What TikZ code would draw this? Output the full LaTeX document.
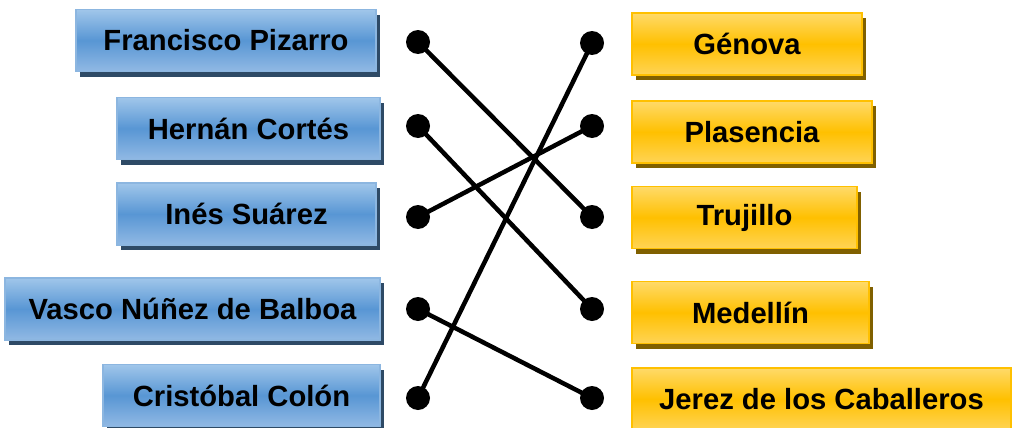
\documentclass[tikz,border=0pt]{standalone}
\usepackage{fontspec}
\setmainfont{Liberation Sans}
\usetikzlibrary{shadows}

\definecolor{bluetop}{RGB}{160,198,234}
\definecolor{bluemid}{RGB}{88,150,212}
\definecolor{bluebot}{RGB}{145,185,228}
\definecolor{blueline}{RGB}{140,182,224}
\definecolor{blueshadow}{RGB}{46,74,102}
\definecolor{goldtop}{RGB}{255,218,105}
\definecolor{goldmid}{RGB}{255,192,0}
\definecolor{goldbot}{RGB}{255,212,85}
\definecolor{goldline}{RGB}{255,192,0}
\definecolor{goldshadow}{RGB}{128,96,0}

\tikzset{
  box/.style={inner sep=0pt, line width=0.75pt, minimum height=31pt,
    font=\fontsize{14.6}{17}\selectfont\bfseries},
  person/.style={box, draw=blueline, top color=bluetop, bottom color=bluebot,
    middle color=bluemid,
    drop shadow={shadow xshift=1.75pt, shadow yshift=-2.5pt, fill=blueshadow, opacity=1}},
  place/.style={box, draw=goldline, top color=goldtop, bottom color=goldbot,
    middle color=goldmid,
    drop shadow={shadow xshift=1.75pt, shadow yshift=-2.5pt, fill=goldshadow, opacity=1}},
  dot/.style={circle, fill=black, inner sep=0pt, minimum size=12pt},
  link/.style={line width=2.25pt}
}

\begin{document}
\begin{tikzpicture}[x=0.5pt,y=-0.5pt]
  \useasboundingbox (0,0) rectangle (1012,428);
  % left column
  \node[person, minimum width=150pt]   (pizarro) at (226,40.5)   {Francisco Pizarro};
  \node[person, minimum width=131.5pt] (cortes)  at (248.5,128.5) {Hernán Cortés};
  \node[person, minimum width=129.5pt] (suarez)  at (246.5,214)  {Inés Suárez};
  \node[person, minimum width=187.5pt] (balboa)  at (192.5,309)  {Vasco Núñez de Balboa};
  \node[person, minimum width=138.5pt] (colon)   at (241.5,395.5) {Cristóbal Colón};
  % right column
  \node[place, minimum width=115pt]   (genova)    at (747,44)    {Génova};
  \node[place, minimum width=120pt]   (plasencia) at (752,132)   {Plasencia};
  \node[place, minimum width=112.5pt] (trujillo)  at (744.5,217.5) {Trujillo};
  \node[place, minimum width=118.5pt] (medellin)  at (750.5,312.5) {Medellín};
  \node[place, minimum width=189.5pt] (jerez)     at (821.5,399) {Jerez de los Caballeros};

  \node[dot] (a1) at (418,42)  {};
  \node[dot] (a2) at (418,126) {};
  \node[dot] (a3) at (418,217) {};
  \node[dot] (a4) at (418,309) {};
  \node[dot] (a5) at (418,398) {};
  \node[dot] (b1) at (592,43)  {};
  \node[dot] (b2) at (592,126) {};
  \node[dot] (b3) at (592,217) {};
  \node[dot] (b4) at (592,309) {};
  \node[dot] (b5) at (592,398) {};

  \draw[link] (a1.center) -- (b3.center);
  \draw[link] (a2.center) -- (b4.center);
  \draw[link] (a3.center) -- (b2.center);
  \draw[link] (a4.center) -- (b5.center);
  \draw[link] (a5.center) -- (b1.center);
\end{tikzpicture}
\end{document}
